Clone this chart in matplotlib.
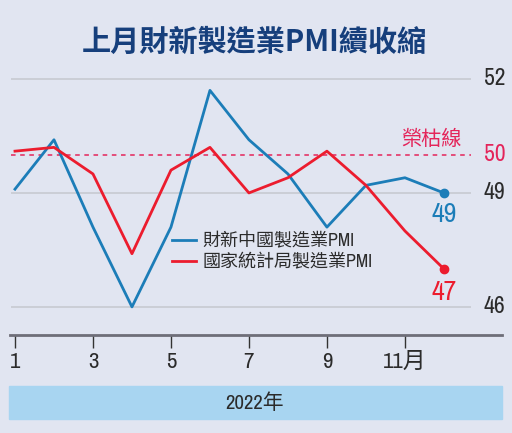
import matplotlib.pyplot as plt
import matplotlib.patches as mpatches

# data (2022, monthly)
months = [1, 2, 3, 4, 5, 6, 7, 8, 9, 10, 11, 12]
caixin_pmi = [49.1, 50.4, 48.1, 46.0, 48.1, 51.7, 50.4, 49.5, 48.1, 49.2, 49.4, 49.0]
nbs_pmi = [50.1, 50.2, 49.5, 47.4, 49.6, 50.2, 49.0, 49.4, 50.1, 49.2, 48.0, 47.0]
x_ticks = [1, 3, 5, 7, 9, 11]
x_tick_labels = ['1', '3', '5', '7', '9', '11月']
y_grid = [52, 49, 46]

BG = '#e1e5f1'
BLUE = '#1c7db8'
RED = '#ec1c2e'
PINK = '#e4245a'
TXT = '#2b2b2b'

FONT = ['Archivo Narrow', 'Noto Sans CJK TC', 'DejaVu Sans']
CJK = ['Noto Sans CJK TC', 'DejaVu Sans']
plt.rcParams['font.family'] = FONT

fig = plt.figure(figsize=(5.12, 4.33), dpi=100, facecolor=BG)
W, H = 512, 433

# main axes placed in pixel terms
ax = fig.add_axes([10 / W, (H - 335) / H, 492 / W, 275 / H])
ax.set_facecolor(BG)
ax.set_xlim(0.872, 13.49)
ax.set_ylim(45.26, 52.5)

# gridlines + right-side labels
for v in y_grid:
    ax.hlines(v, 0.9, 12.7, color='#c9ccd4', lw=1.3, zorder=1)
    ax.text(13.3, v, str(v), ha='center', va='center', fontsize=17, color=TXT)

# 50 = boom/bust line
ax.hlines(50, 0.9, 12.7, color=PINK, lw=1.1, ls=(0, (3, 3)), zorder=1)
ax.text(13.3, 50, '50', ha='center', va='center', fontsize=17, color=PINK)
ax.text(11.67, 50.4, '榮枯線', ha='center', va='center', fontsize=14.5,
        color=PINK, family=CJK)

# series
ax.plot(months, caixin_pmi, color=BLUE, lw=2, zorder=3, label='財新中國製造業PMI')
ax.plot(months, nbs_pmi, color=RED, lw=2, zorder=3, label='國家統計局製造業PMI')
ax.plot(months[-1], caixin_pmi[-1], 'o', color=BLUE, ms=6, zorder=4)
ax.plot(months[-1], nbs_pmi[-1], 'o', color=RED, ms=6, zorder=4)
ax.text(months[-1], caixin_pmi[-1] - 0.57, '49', ha='center', va='center',
        fontsize=20, color=BLUE)
ax.text(months[-1], nbs_pmi[-1] - 0.62, '47', ha='center', va='center',
        fontsize=20, color=RED)

leg = ax.legend(loc='upper left', bbox_to_anchor=(0.297, 0.435), frameon=False,
                fontsize=13, handlelength=1.3, handletextpad=0.35,
                labelspacing=0.25, labelcolor=TXT)

# x axis at the bottom
for s in ['top', 'right', 'left']:
    ax.spines[s].set_visible(False)
ax.spines['bottom'].set_color('#6e6e78')
ax.spines['bottom'].set_linewidth(2)
ax.set_yticks([])
ax.set_xticks(x_ticks)
ax.set_xticklabels(x_tick_labels)
ax.tick_params(axis='x', direction='out', length=9, width=1, color='#333333',
               labelsize=16.5, labelcolor=TXT, pad=3)

# title
fig.text(254 / W, 1 - 42 / H, '上月財新製造業PMI續收縮', ha='center', va='center',
         fontsize=21, fontweight='bold', color='#163f7c', family=CJK)

# year band
fig.patches.append(mpatches.Rectangle((9 / W, (H - 419) / H), 493 / W, 33 / H,
                                      transform=fig.transFigure,
                                      color='#a8d5f1', zorder=0))
fig.text(255 / W, 1 - 403 / H, '2022年', ha='center', va='center',
         fontsize=15, color=TXT)

fig.savefig('out.png', dpi=100, facecolor=BG)
